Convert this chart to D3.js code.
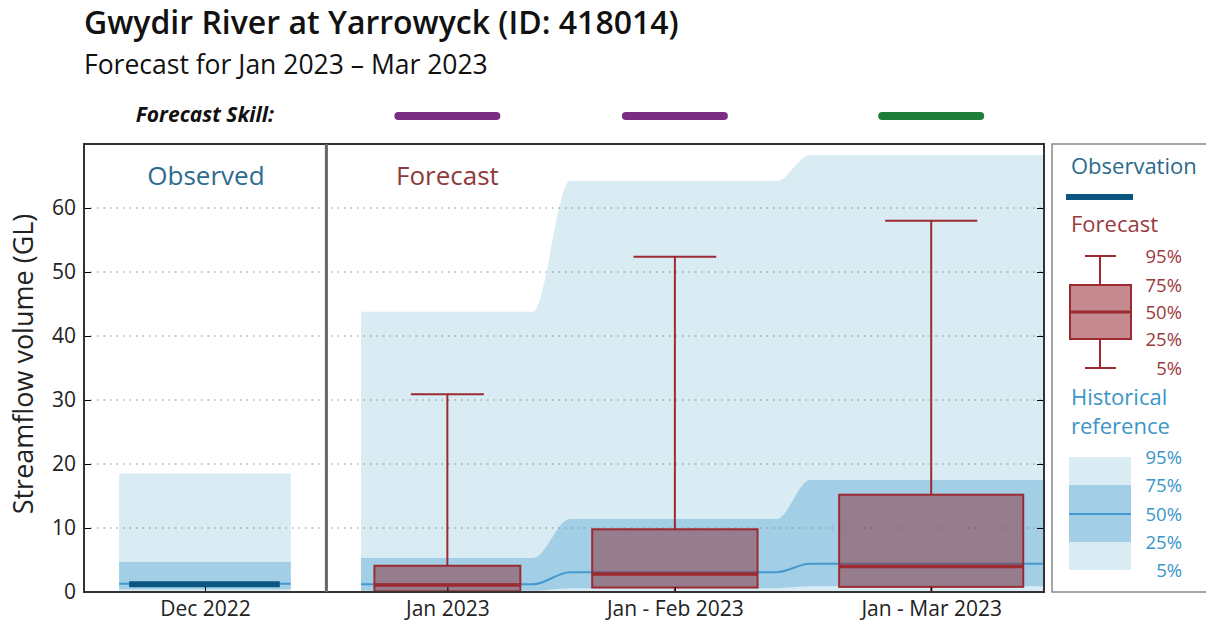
<!DOCTYPE html>
<html>
<head>
<meta charset="utf-8">
<script src="https://cdn.jsdelivr.net/npm/d3@7"></script>
<style>
  body { margin: 0; background: #fff; }
  text { font-family: "Open Sans", "Noto Sans", sans-serif; }
</style>
</head>
<body>
<div id="chart"></div>
<script>
// data (GL)
const categories = ["Dec 2022", "Jan 2023", "Jan - Feb 2023", "Jan - Mar 2023"];
const observed = [1.2]; // Dec 2022 only
const fc5 = [0.05, 0.1, 0.1];
const fc25 = [0.1, 0.7, 0.8];
const fc50 = [1.1, 2.8, 4.0];
const fc75 = [4.1, 9.8, 15.2];
const fc95 = [30.9, 52.4, 58.0];
const hist5 = [0, 0, 0, 0];
const hist25 = [0.4, 0.2, 0.6, 0.9];
const hist50 = [1.3, 1.2, 3.1, 4.4];
const hist75 = [4.7, 5.3, 11.4, 17.5];
const hist95 = [18.5, 43.8, 64.2, 68.3];
const skill = ["Low", "Low", "High"];
const yTicks = [0, 10, 20, 30, 40, 50, 60];
const legendPct = ["95%", "75%", "50%", "25%", "5%"];

// layout (x in "period" units, plot spans 0..4)
const centers = [0.504, 1.514, 2.462, 3.53];
const boxW = [0.715, 0.608, 0.689, 0.767];
const flatSpans = [[1.154, 1.871], [2.025, 2.886], [3.025, 4.0]];
const skillColor = { Low: "#7b2d84", High: "#1f7d3a" };

const width = 1206, height = 630;
const plot = { left: 84, right: 1044, top: 144, bottom: 592 };

const x = d3.scaleLinear().domain([0, 4]).range([plot.left, plot.right]);
const y = d3.scaleLinear().domain([0, 70]).range([plot.bottom, plot.top]);

const svg = d3.select("#chart").append("svg")
  .attr("width", width).attr("height", height);

// titles
svg.append("text").attr("x", 84).attr("y", 34)
  .attr("font-size", 32).attr("font-weight", 600).attr("fill", "#111")
  .text("Gwydir River at Yarrowyck (ID: 418014)");
svg.append("text").attr("x", 84).attr("y", 74)
  .attr("font-size", 26.5).attr("fill", "#111")
  .text("Forecast for Jan 2023 \u2013 Mar 2023");
svg.append("text").attr("x", 274).attr("y", 122)
  .attr("font-size", 21).attr("font-weight", "bold").attr("font-style", "italic")
  .attr("text-anchor", "end").attr("fill", "#111")
  .text("Forecast Skill:");

svg.selectAll("line.skill").data(skill).enter().append("line")
  .attr("class", "skill")
  .attr("x1", (d, i) => x(centers[i + 1]) - 49)
  .attr("x2", (d, i) => x(centers[i + 1]) + 49)
  .attr("y1", 116).attr("y2", 116)
  .attr("stroke", (d) => skillColor[d])
  .attr("stroke-width", 8).attr("stroke-linecap", "round");

const g = svg.append("g");

// historical reference, observed period
const b0 = [x(centers[0] - boxW[0] / 2), x(centers[0] + boxW[0] / 2)];
g.append("rect").attr("x", b0[0]).attr("width", b0[1] - b0[0])
  .attr("y", y(hist95[0])).attr("height", y(hist5[0]) - y(hist95[0]))
  .attr("fill", "#d9ebf3");
g.append("rect").attr("x", b0[0]).attr("width", b0[1] - b0[0])
  .attr("y", y(hist75[0])).attr("height", y(hist25[0]) - y(hist75[0]))
  .attr("fill", "#a3cfe6");
g.append("line").attr("x1", b0[0]).attr("x2", b0[1])
  .attr("y1", y(hist50[0])).attr("y2", y(hist50[0]))
  .attr("stroke", "#4599d0").attr("stroke-width", 2);

// historical reference, forecast periods (stepped, smoothed)
function stepPts(arr) {
  const pts = [];
  flatSpans.forEach((s, i) => {
    pts.push([s[0], arr[i + 1]]);
    pts.push([s[1], arr[i + 1]]);
  });
  return pts;
}
const lo5 = stepPts(hist5), hi95 = stepPts(hist95);
const lo25 = stepPts(hist25), hi75 = stepPts(hist75);
const med = stepPts(hist50);
const area = d3.area().curve(d3.curveMonotoneX)
  .x((d) => x(d[0])).y0((d) => y(d[1])).y1((d) => y(d[2]));
g.append("path")
  .attr("d", area(lo5.map((p, i) => [p[0], p[1], hi95[i][1]])))
  .attr("fill", "#d9ebf3");
g.append("path")
  .attr("d", area(lo25.map((p, i) => [p[0], p[1], hi75[i][1]])))
  .attr("fill", "#a3cfe6");
g.append("path")
  .attr("d", d3.line().curve(d3.curveMonotoneX).x((d) => x(d[0])).y((d) => y(d[1]))(med))
  .attr("fill", "none").attr("stroke", "#4599d0").attr("stroke-width", 2);

// grid
g.selectAll("line.grid").data(yTicks.slice(1)).enter().append("line")
  .attr("x1", plot.left).attr("x2", plot.right)
  .attr("y1", (d) => y(d)).attr("y2", (d) => y(d))
  .attr("stroke", "#888").attr("stroke-width", 1.2)
  .attr("stroke-dasharray", "1.5,5");

// observed line
g.append("line")
  .attr("x1", x(centers[0] - boxW[0] / 2) + 10).attr("x2", x(centers[0] + boxW[0] / 2) - 11)
  .attr("y1", y(observed[0])).attr("y2", y(observed[0]))
  .attr("stroke", "#0b5581").attr("stroke-width", 6);

// forecast boxes
const fc = fc50.map((m, i) => ({
  c: centers[i + 1], w: boxW[i + 1],
  p5: fc5[i], p25: fc25[i], p50: m, p75: fc75[i], p95: fc95[i]
}));
const box = g.selectAll("g.box").data(fc).enter().append("g").attr("class", "box");
const red = "#9c2a30";
box.append("line")
  .attr("x1", (d) => x(d.c)).attr("x2", (d) => x(d.c))
  .attr("y1", (d) => y(d.p75)).attr("y2", (d) => y(d.p95))
  .attr("stroke", red).attr("stroke-width", 2);
box.append("line")
  .attr("x1", (d) => x(d.c)).attr("x2", (d) => x(d.c))
  .attr("y1", (d) => y(d.p5)).attr("y2", (d) => y(d.p25))
  .attr("stroke", red).attr("stroke-width", 2);
box.append("line")
  .attr("x1", (d) => x(d.c - d.w / 4)).attr("x2", (d) => x(d.c + d.w / 4))
  .attr("y1", (d) => y(d.p95)).attr("y2", (d) => y(d.p95))
  .attr("stroke", red).attr("stroke-width", 2);
box.append("rect")
  .attr("x", (d) => x(d.c - d.w / 2)).attr("width", (d) => x(d.w) - x(0))
  .attr("y", (d) => y(d.p75)).attr("height", (d) => y(d.p25) - y(d.p75))
  .attr("fill", "#8a2c36").attr("fill-opacity", 0.5)
  .attr("stroke", red).attr("stroke-width", 2);
box.append("line")
  .attr("x1", (d) => x(d.c - d.w / 2)).attr("x2", (d) => x(d.c + d.w / 2))
  .attr("y1", (d) => y(d.p50)).attr("y2", (d) => y(d.p50))
  .attr("stroke", red).attr("stroke-width", 3.5);

// axes
svg.append("g").attr("transform", `translate(${plot.left},0)`)
  .call(d3.axisLeft(y).tickValues(yTicks).tickSize(-7).tickPadding(8))
  .call((a) => a.select(".domain").remove())
  .call((a) => a.selectAll("text").attr("font-size", 21).attr("fill", "#222"));
svg.append("g").attr("transform", `translate(${plot.right},0)`)
  .call(d3.axisRight(y).tickValues(yTicks).tickSize(-7).tickFormat(""))
  .call((a) => a.select(".domain").remove());
svg.append("g").attr("transform", `translate(0,${plot.bottom})`)
  .call(d3.axisBottom(x).tickValues(centers).tickSize(-5).tickPadding(9)
    .tickFormat((d, i) => categories[i]))
  .call((a) => a.select(".domain").remove())
  .call((a) => a.selectAll("text").attr("font-size", 21).attr("fill", "#222"));

// frame and divider
svg.append("rect").attr("x", plot.left).attr("y", plot.top)
  .attr("width", plot.right - plot.left).attr("height", plot.bottom - plot.top)
  .attr("fill", "none").attr("stroke", "#333").attr("stroke-width", 2);
svg.append("line").attr("x1", x(1.01)).attr("x2", x(1.01))
  .attr("y1", plot.top).attr("y2", plot.bottom)
  .attr("stroke", "#666").attr("stroke-width", 3);

svg.append("text").attr("x", x(centers[0]) + 1).attr("y", 185)
  .attr("text-anchor", "middle").attr("font-size", 26).attr("fill", "#2d6b8e")
  .text("Observed");
svg.append("text").attr("x", 396).attr("y", 185)
  .attr("font-size", 26).attr("fill", "#8e3a3d")
  .text("Forecast");

svg.append("text")
  .attr("transform", `translate(33,${(plot.top + plot.bottom) / 2 - 4}) rotate(-90)`)
  .attr("text-anchor", "middle").attr("font-size", 27).attr("fill", "#222")
  .text("Streamflow volume (GL)");

// legend
const lg = svg.append("g");
lg.append("rect").attr("x", 1052).attr("y", plot.top).attr("width", 170)
  .attr("height", plot.bottom - plot.top)
  .attr("fill", "#fff").attr("stroke", "#888").attr("stroke-width", 1.5);
lg.append("text").attr("x", 1071).attr("y", 174).attr("font-size", 22)
  .attr("fill", "#2b6a8c").text("Observation");
lg.append("line").attr("x1", 1066).attr("x2", 1133).attr("y1", 197).attr("y2", 197)
  .attr("stroke", "#0b5581").attr("stroke-width", 6);
lg.append("text").attr("x", 1071).attr("y", 232).attr("font-size", 22)
  .attr("fill", "#9b3a3d").text("Forecast");

const lgFcY = [256, 285, 312, 339, 368];
const ly = d3.scaleOrdinal().domain(legendPct).range(lgFcY);
lg.append("line").attr("x1", 1100).attr("x2", 1100).attr("y1", ly("95%")).attr("y2", ly("5%"))
  .attr("stroke", red).attr("stroke-width", 2);
lg.append("rect").attr("x", 1070).attr("width", 61)
  .attr("y", ly("75%")).attr("height", ly("25%") - ly("75%"))
  .attr("fill", "#c48a8f").attr("stroke", red).attr("stroke-width", 2);
lg.append("line").attr("x1", 1070).attr("x2", 1131).attr("y1", ly("50%")).attr("y2", ly("50%"))
  .attr("stroke", red).attr("stroke-width", 3);
["95%", "5%"].forEach((k) => {
  lg.append("line").attr("x1", 1085).attr("x2", 1116).attr("y1", ly(k)).attr("y2", ly(k))
    .attr("stroke", red).attr("stroke-width", 2);
});
lg.selectAll("text.fcpct").data(legendPct).enter().append("text")
  .attr("class", "fcpct").attr("x", 1182).attr("y", (d) => ly(d) + 7)
  .attr("text-anchor", "end").attr("font-size", 18.5).attr("fill", "#9b3a3d")
  .text((d) => d);

lg.append("text").attr("x", 1071).attr("y", 405).attr("font-size", 22)
  .attr("fill", "#3a96c8").text("Historical");
lg.append("text").attr("x", 1071).attr("y", 434).attr("font-size", 22)
  .attr("fill", "#3a96c8").text("reference");
const lh = d3.scaleOrdinal().domain(legendPct).range([457, 485, 514, 542, 570]);
lg.append("rect").attr("x", 1069).attr("width", 62)
  .attr("y", lh("95%")).attr("height", lh("5%") - lh("95%")).attr("fill", "#d9ebf3");
lg.append("rect").attr("x", 1069).attr("width", 62)
  .attr("y", lh("75%")).attr("height", lh("25%") - lh("75%")).attr("fill", "#a3cfe6");
lg.append("line").attr("x1", 1069).attr("x2", 1131).attr("y1", lh("50%")).attr("y2", lh("50%"))
  .attr("stroke", "#4599d0").attr("stroke-width", 2);
lg.selectAll("text.hpct").data(legendPct).enter().append("text")
  .attr("class", "hpct").attr("x", 1182).attr("y", (d) => lh(d) + 7)
  .attr("text-anchor", "end").attr("font-size", 18.5).attr("fill", "#3a96c8")
  .text((d) => d);
</script>
</body>
</html>
